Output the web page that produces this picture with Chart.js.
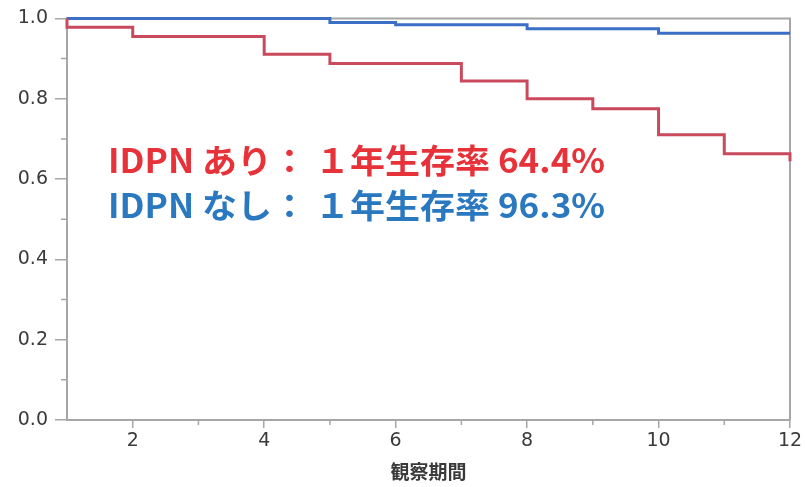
<!DOCTYPE html>
<html>
<head>
<meta charset="utf-8">
<script src="https://cdn.jsdelivr.net/npm/chart.js@4"></script>
<style>
  body { margin: 0; background: #fff; }
  #wrap { width: 805px; height: 487px; }
</style>
</head>
<body>
<div id="wrap"><canvas id="km-chart"></canvas></div>
<script>
// survival data (months vs survival rate)
var idpnYesTimes = [1, 1, 2, 4, 5, 7, 8, 9, 10, 11, 12];
var idpnYesSurv  = [1.0, 0.978, 0.955, 0.911, 0.888, 0.844, 0.80, 0.775, 0.71, 0.663, 0.644];
var idpnNoTimes  = [1, 5, 6, 8, 10, 12];
var idpnNoSurv   = [1.0, 0.99, 0.984, 0.974, 0.963, 0.963];
var annotations  = ['IDPN あり： １年生存率 64.4%', 'IDPN なし： １年生存率 96.3%'];
var xTitle = '観察期間';

function toPoints(xs, ys) {
    return xs.map(function (x, i) { return { x: x, y: ys[i] }; });
}

var axisGray = '#a6a6a6';
var labelFont = { family: 'DejaVu Sans', size: 19 };

// frame + minor ticks go under the curves, text on top
var extras = {
    id: 'extras',
    beforeDatasetsDraw: function (chart) {
        var c = chart.ctx, a = chart.chartArea;
        var xs = chart.scales.x, ys = chart.scales.y;
        c.save();
        c.strokeStyle = axisGray;
        c.lineWidth = 2;
        c.beginPath();
        c.moveTo(a.left, a.top);
        c.lineTo(a.right, a.top);
        c.lineTo(a.right, a.bottom);
        c.stroke();
        // minor ticks
        c.lineWidth = 1.5;
        c.beginPath();
        for (var v = 0.1; v < 1; v += 0.2) {
            var py = ys.getPixelForValue(v);
            c.moveTo(a.left - 6, py);
            c.lineTo(a.left, py);
        }
        for (var t = 3; t < 12; t += 2) {
            var px = xs.getPixelForValue(t);
            c.moveTo(px, a.bottom);
            c.lineTo(px, a.bottom + 5);
        }
        c.stroke();
        c.restore();
    },
    afterDraw: function (chart) {
        var c = chart.ctx, a = chart.chartArea;
        c.save();
        // survival text, stretched to the width it has in the figure
        c.font = 'bold 33px "Noto Sans CJK JP"';
        c.textBaseline = 'middle';
        var colors = ['#e8323a', '#2a78c0'];
        var rows = [160, 205];
        annotations.forEach(function (txt, i) {
            var w = c.measureText(txt).width;
            c.save();
            c.translate(a.left + 41, rows[i]);
            c.scale(497 / w, 1);
            c.fillStyle = colors[i];
            c.fillText(txt, 0, 0);
            c.restore();
        });
        c.restore();
    }
};

var ctx = document.getElementById('km-chart').getContext('2d');

var config = {
    type: 'line',
    data: {
        datasets: [{
            label: 'IDPN あり',
            data: toPoints(idpnYesTimes, idpnYesSurv),
            borderColor: '#c94a5c',
            borderWidth: 3,
            stepped: 'before',
            pointRadius: 0,
            clip: 4,
            fill: false
        }, {
            label: 'IDPN なし',
            data: toPoints(idpnNoTimes, idpnNoSurv),
            borderColor: '#3b6fc6',
            borderWidth: 3,
            stepped: 'before',
            pointRadius: 0,
            clip: 4,
            fill: false
        }]
    },
    options: {
        responsive: true,
        maintainAspectRatio: false,
        animation: false,
        layout: { padding: { top: 17, right: 15, left: 0, bottom: 0 } },
        plugins: {
            legend: { display: false },
            tooltip: { enabled: false }
        },
        scales: {
            x: {
                type: 'linear',
                min: 1,
                max: 12,
                afterBuildTicks: function (scale) {
                    scale.ticks = scale.ticks.filter(function (t) { return t.value !== 1; });
                },
                afterFit: function (scale) { scale.height = 67; },
                ticks: { stepSize: 2, color: '#3a3a3a', font: labelFont, padding: 2, maxRotation: 0 },
                grid: { drawOnChartArea: false, tickLength: 8, color: axisGray, lineWidth: 1.5 },
                border: { color: axisGray, width: 2 },
                title: {
                    display: true,
                    text: xTitle,
                    color: '#3a3a3a',
                    font: { family: 'Noto Sans CJK JP', size: 19, weight: 'bold' },
                    padding: { top: 2, bottom: 4 }
                }
            },
            y: {
                min: 0,
                max: 1,
                afterFit: function (scale) { scale.width = 67; },
                ticks: {
                    stepSize: 0.2,
                    color: '#3a3a3a',
                    font: labelFont,
                    padding: 7,
                    callback: function (v) { return v.toFixed(1); }
                },
                grid: { drawOnChartArea: false, tickLength: 12, color: axisGray, lineWidth: 1.5 },
                border: { color: axisGray, width: 2 }
            }
        }
    },
    plugins: [extras]
};
new Chart(ctx, config);
</script>
</body>
</html>
